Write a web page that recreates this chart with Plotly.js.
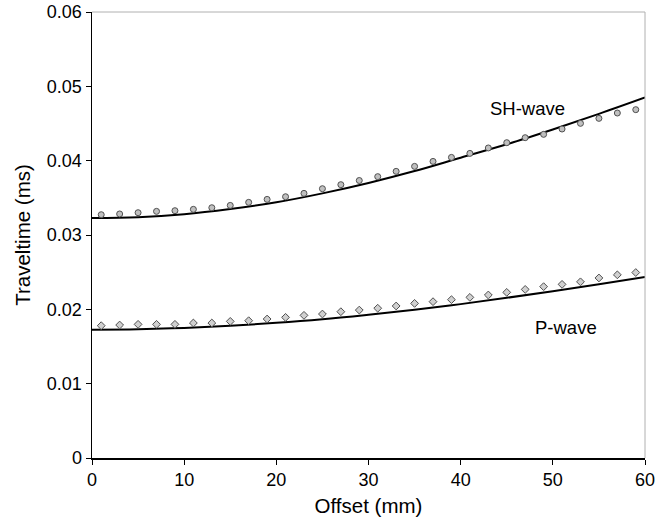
<!DOCTYPE html>
<html>
<head>
<meta charset="utf-8">
<script src="https://cdn.plot.ly/plotly-3.0.1.min.js"></script>
<style>html,body{margin:0;padding:0;background:#fff}#chart{width:667px;height:522px}</style>
</head>
<body>
<div id="chart"></div>
<script>
// Measured offsets (mm)
const offsetPts = [1,3,5,7,9,11,13,15,17,19,21,23,25,27,29,31,33,35,37,39,41,43,45,47,49,51,53,55,57,59];
// SH-wave measured traveltimes (ms)
const shPts = [0.03273,0.03283,0.0330,0.03318,0.03327,0.03345,0.03367,0.03398,0.03439,0.03479,0.03515,0.0356,0.03623,0.03677,0.03733,0.03785,0.03856,0.03923,0.0399,0.04044,0.04098,0.04171,0.04242,0.04309,0.04354,0.04426,0.04502,0.04569,0.04641,0.04686];
// P-wave measured traveltimes (ms)
const pPts = [0.0178,0.01789,0.01798,0.01798,0.01798,0.01816,0.01816,0.01838,0.01847,0.0187,0.01892,0.01919,0.01937,0.01968,0.0199,0.02015,0.02045,0.0208,0.02103,0.0213,0.02161,0.02193,0.02228,0.02268,0.02305,0.02336,0.0237,0.02422,0.02464,0.02495];
// Model curves
const offsetLine = [0,5,10,15,20,25,30,35,40,45,50,55,60];
const shLine = [0.0323,0.0324,0.0328,0.0335,0.0344,0.0356,0.0370,0.0386,0.0404,0.0422,0.0442,0.0463,0.0485];
const pLine = [0.01726,0.01732,0.0175,0.01779,0.01818,0.01867,0.01928,0.01995,0.0207,0.02155,0.02243,0.02337,0.02435];
// Axis ticks
const yTickVals = [0,0.01,0.02,0.03,0.04,0.05,0.06];
const yTickText = ['0','0.01','0.02','0.03','0.04','0.05','0.06'];
const xTickVals = [0,10,20,30,40,50,60];

const fam = '"Liberation Sans", Arial, sans-serif';
const tickFont = {family:fam, size:18, color:'#000'};
const titleFont = {family:fam, size:20.5, color:'#000'};
const annFont = {family:fam, size:18.5, color:'#000'};

const traces = [
  {x:offsetLine, y:shLine, mode:'lines', line:{color:'#000', width:2, shape:'spline'}, hoverinfo:'skip'},
  {x:offsetLine, y:pLine, mode:'lines', line:{color:'#000', width:2, shape:'spline'}, hoverinfo:'skip'},
  {x:offsetPts, y:shPts, mode:'markers', marker:{symbol:'circle', size:6, color:'#c0c0c0', line:{color:'#505050', width:1}}},
  {x:offsetPts, y:pPts, mode:'markers', marker:{symbol:'diamond', size:6, color:'#d0d0d0', line:{color:'#505050', width:1}}}
];

const layout = {
  width:667, height:522,
  margin:{l:92, r:22, t:12, b:64},
  paper_bgcolor:'#fff', plot_bgcolor:'#fff',
  showlegend:false,
  font:tickFont,
  xaxis:{range:[0,60], tickvals:xTickVals, ticks:'outside', ticklen:5, tickwidth:1, tickcolor:'#000',
    showline:true, linecolor:'#000', linewidth:1.5, showgrid:false, zeroline:false,
    title:{text:'Offset (mm)', font:titleFont, standoff:9}, tickfont:tickFont},
  yaxis:{range:[0,0.06], tickvals:yTickVals, ticktext:yTickText, ticks:'outside', ticklen:5, tickwidth:1, tickcolor:'#000',
    showline:true, linecolor:'#000', linewidth:1.5, showgrid:false, zeroline:false,
    title:{text:'Traveltime (ms)', font:titleFont, standoff:10}, tickfont:tickFont},
  shapes:[
    {type:'line', xref:'paper', yref:'paper', x0:0, x1:1, y0:1, y1:1, line:{color:'#b0b0b0', width:1}},
    {type:'line', xref:'paper', yref:'paper', x0:1, x1:1, y0:0, y1:1, line:{color:'#b0b0b0', width:1}}
  ],
  annotations:[
    {x:47.2, y:0.0470, text:'SH-wave', showarrow:false, font:annFont},
    {x:51.4, y:0.01755, text:'P-wave', showarrow:false, font:annFont}
  ]
};

Plotly.newPlot('chart', traces, layout, {displayModeBar:false, staticPlot:true});
</script>
</body>
</html>
